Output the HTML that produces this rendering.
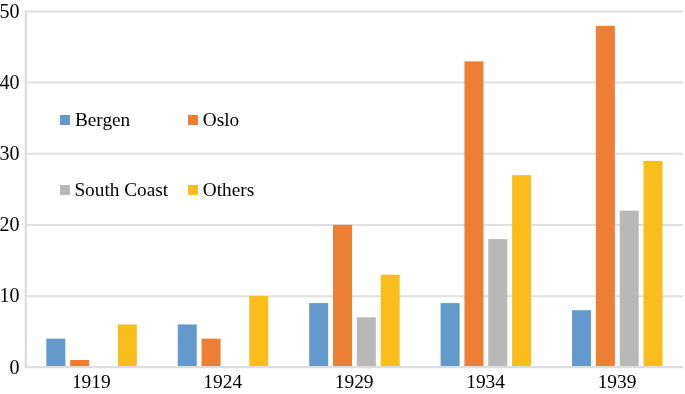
<!DOCTYPE html>
<html><head><meta charset="utf-8"><style>
html,body{margin:0;padding:0;background:#fff;}
body{width:685px;height:394px;overflow:hidden;}
svg{display:block;will-change:transform;}
text{font-family:"Liberation Serif",serif;font-size:19.3px;fill:#000;}
</style></head><body>
<svg width="685" height="394" viewBox="0 0 685 394">
<rect width="685" height="394" fill="#fff"/>
<line x1="24.70" y1="296.16" x2="683.00" y2="296.16" stroke="#dfe1e1" stroke-width="2.0"/>
<line x1="24.70" y1="224.97" x2="683.00" y2="224.97" stroke="#dfe1e1" stroke-width="2.0"/>
<line x1="24.70" y1="153.78" x2="683.00" y2="153.78" stroke="#dfe1e1" stroke-width="2.0"/>
<line x1="24.70" y1="82.59" x2="683.00" y2="82.59" stroke="#dfe1e1" stroke-width="2.0"/>
<line x1="24.70" y1="11.40" x2="683.00" y2="11.40" stroke="#dfe1e1" stroke-width="2.0"/>
<rect x="46.32" y="338.66" width="19.00" height="27.34" fill="#6399cb"/>
<rect x="70.15" y="359.99" width="19.00" height="6.01" fill="#ec7f33"/>
<rect x="117.81" y="324.44" width="19.00" height="41.56" fill="#f9be1c"/>
<rect x="177.75" y="324.44" width="19.00" height="41.56" fill="#6399cb"/>
<rect x="201.58" y="338.66" width="19.00" height="27.34" fill="#ec7f33"/>
<rect x="249.24" y="296.00" width="19.00" height="70.00" fill="#f9be1c"/>
<rect x="309.18" y="303.11" width="19.00" height="62.89" fill="#6399cb"/>
<rect x="333.01" y="224.90" width="19.00" height="141.10" fill="#ec7f33"/>
<rect x="356.84" y="317.33" width="19.00" height="48.67" fill="#b8b8b8"/>
<rect x="380.67" y="274.67" width="19.00" height="91.33" fill="#f9be1c"/>
<rect x="440.61" y="303.11" width="19.00" height="62.89" fill="#6399cb"/>
<rect x="464.44" y="61.37" width="19.00" height="304.63" fill="#ec7f33"/>
<rect x="488.27" y="239.12" width="19.00" height="126.88" fill="#b8b8b8"/>
<rect x="512.10" y="175.13" width="19.00" height="190.87" fill="#f9be1c"/>
<rect x="572.04" y="310.22" width="19.00" height="55.78" fill="#6399cb"/>
<rect x="595.87" y="25.82" width="19.00" height="340.18" fill="#ec7f33"/>
<rect x="619.70" y="210.68" width="19.00" height="155.32" fill="#b8b8b8"/>
<rect x="643.53" y="160.91" width="19.00" height="205.09" fill="#f9be1c"/>
<line x1="25.85" y1="10.40" x2="25.85" y2="368.35" stroke="#dcdede" stroke-width="2.3"/>
<line x1="24.70" y1="367.20" x2="683.00" y2="367.20" stroke="#dcdede" stroke-width="2.3"/>
<text x="19.4" y="373.55" text-anchor="end" style="font-size:20.0px">0</text>
<text x="19.4" y="302.36" text-anchor="end" style="font-size:20.0px">10</text>
<text x="19.4" y="231.17" text-anchor="end" style="font-size:20.0px">20</text>
<text x="19.4" y="159.98" text-anchor="end" style="font-size:20.0px">30</text>
<text x="19.4" y="88.79" text-anchor="end" style="font-size:20.0px">40</text>
<text x="19.4" y="17.60" text-anchor="end" style="font-size:20.0px">50</text>
<text x="91.31" y="388.4" text-anchor="middle" style="font-size:19.4px">1919</text>
<text x="222.75" y="388.4" text-anchor="middle" style="font-size:19.4px">1924</text>
<text x="354.18" y="388.4" text-anchor="middle" style="font-size:19.4px">1929</text>
<text x="485.61" y="388.4" text-anchor="middle" style="font-size:19.4px">1934</text>
<text x="617.04" y="388.4" text-anchor="middle" style="font-size:19.4px">1939</text>
<rect x="60" y="115" width="10" height="10" fill="#6399cb"/>
<text x="74.9" y="126.4">Bergen</text>
<rect x="188" y="115" width="10" height="10" fill="#ec7f33"/>
<text x="202.8" y="126.4">Oslo</text>
<rect x="60" y="185" width="10" height="10" fill="#b8b8b8"/>
<text x="74.4" y="195.6">South Coast</text>
<rect x="188" y="185" width="10" height="10" fill="#f9be1c"/>
<text x="202.8" y="195.6">Others</text>
</svg>
</body></html>
